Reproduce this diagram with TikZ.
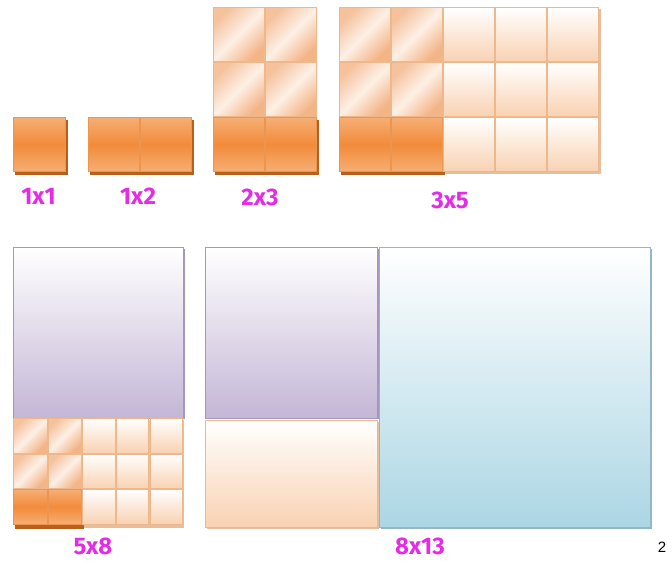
\documentclass[tikz,border=0pt]{standalone}
\usepackage{fontspec}
\newfontfamily\lblfont{Fira Sans}
\newfontfamily\pagefont{Liberation Sans}
\definecolor{orlight}{HTML}{F6AE74}
\definecolor{ordeep}{HTML}{F28B3A}
\definecolor{oredge}{HTML}{EC9550}
\definecolor{orshadow}{HTML}{B8601A}
\definecolor{tan}{HTML}{E6BE9C}
\definecolor{peach}{HTML}{F9D2B2}
\definecolor{peachedge}{HTML}{EFB78C}
\definecolor{glossa}{HTML}{F5C29C}
\definecolor{glossb}{HTML}{F3B486}
\definecolor{glossmid}{HTML}{FDF0E6}
\definecolor{lilac}{HTML}{C4B6D6}
\definecolor{lilacedge}{HTML}{A596BE}
\definecolor{skyblue}{HTML}{ABD6E4}
\definecolor{skyedge}{HTML}{95B6C4}
\definecolor{fuchsia}{HTML}{E52BE6}
\tikzset{
  darktile/.style={top color=orlight, bottom color=orlight, middle color=ordeep, draw=oredge, line width=0.8pt},
  glosstile/.style={left color=glossa, right color=glossb, middle color=glossmid, shading angle=45, draw=peachedge, line width=0.8pt},
  paletile/.style={top color=white, bottom color=peach, draw=peachedge, line width=0.8pt},
  bigbox/.style={top color=white, bottom color=#1, line width=0.8pt},
  lbl/.style={text=fuchsia, font=\lblfont\bfseries\fontsize{24}{24}\selectfont},
}
% style, x, y, columns, rows, tile width, tile height
\newcommand{\blk}[7]{\foreach \ci in {1,...,#4}{\foreach \ri in {1,...,#5}{%
  \path[#1] ({#2+(\ci-1)*#6+0.6},{#3+(\ri-1)*#7+0.6}) rectangle ++({#6-1.2},{#7-1.2});}}}
\begin{document}
\begin{tikzpicture}[x=1pt,y=-1pt]
  \useasboundingbox (0,0) rectangle (672,560);
  % top row: squares of one to fifteen tiles
  \fill[orshadow] (15,120) rectangle (67.5,175); \blk{darktile}{13}{117}{1}{1}{53}{55}
  \fill[orshadow] (90,120) rectangle (193.5,175); \blk{darktile}{88}{117}{2}{1}{52}{55}
  \fill[orshadow] (215,120) rectangle (318.5,175);
  \blk{glosstile}{213}{7}{2}{2}{52}{55} \blk{darktile}{213}{117}{2}{1}{52}{55}
  \fill[tan] (341,9) rectangle (600.5,174); \fill[orshadow] (341,120) rectangle (444.5,175);
  \blk{glosstile}{339}{7}{2}{2}{52}{55} \blk{darktile}{339}{117}{2}{1}{52}{55}
  \blk{paletile}{443}{7}{3}{3}{52}{55}
  % bottom row
  \fill[lilacedge] (14.5,249) rectangle (184.5,419);
  \path[bigbox=lilac, draw=lilacedge] (13,247) rectangle (183,418);
  \fill[tan] (14.5,420) rectangle (183.8,528); \fill[orshadow] (14.5,491) rectangle (83.5,528.5);
  \blk{glosstile}{13}{418}{2}{2}{34.5}{35.5} \blk{darktile}{13}{489}{2}{1}{34.5}{35.5}
  \blk{paletile}{82}{418}{3}{3}{33.7}{35.5}
  \fill[lilacedge] (206.5,249) rectangle (378.5,419);
  \path[bigbox=lilac, draw=lilacedge] (205,247) rectangle (377,418);
  \fill[tan] (206.5,422) rectangle (378.5,529);
  \path[bigbox=peach, draw=peachedge] (205,420) rectangle (377,527);
  \fill[skyedge] (380.5,249) rectangle (651.5,529);
  \path[bigbox=skyblue, draw=skyedge] (379,247) rectangle (650,527);
  % labels
  \node[lbl] (l1x1) at (38.5,196) {1x1};
  \node[lbl] (l1x2) at (138,196) {1x2};
  \node[lbl] (l2x3) at (260,197) {2x3};
  \node[lbl] (l3x5) at (450,200) {3x5};
  \node[lbl] (l5x8) at (93,546) {5x8};
  \node[lbl] (l8x13) at (420,546) {8x13};
  \node[font=\pagefont\fontsize{15}{15}\selectfont] (pageno) at (662,547) {2};
\end{tikzpicture}
\end{document}
